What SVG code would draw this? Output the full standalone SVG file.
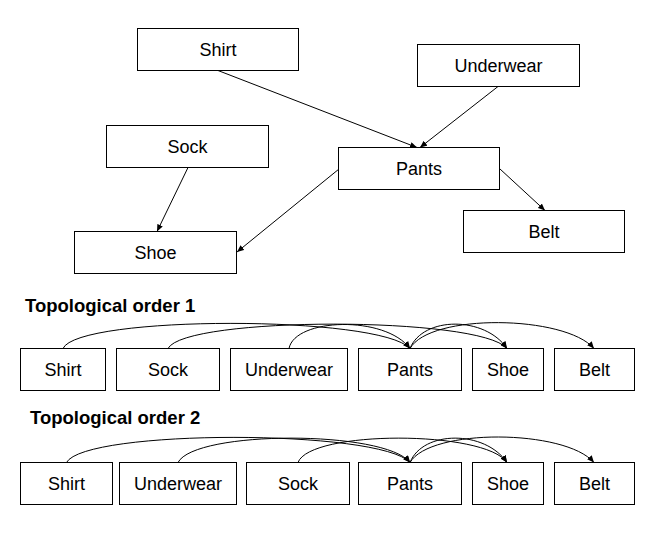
<svg xmlns="http://www.w3.org/2000/svg" width="662" height="537" viewBox="0 0 662 537">
<style>
  .box { fill: #ffffff; stroke: #000000; stroke-width: 1; }
  .lbl { font-family: "Liberation Sans", Arial, sans-serif; font-size: 18px; fill: #000000; text-anchor: middle; }
  .title { font-family: "Liberation Sans", Arial, sans-serif; font-size: 18.5px; font-weight: bold; fill: #000000; }
  .edge { fill: none; stroke: #000000; stroke-width: 1; marker-end: url(#arrow); }
</style>
<defs>
  <marker id="arrow" markerWidth="7" markerHeight="6" refX="7" refY="3" orient="auto" markerUnits="userSpaceOnUse">
    <path d="M0,0 L7,3 L0,6 z" fill="#000000"/>
  </marker>
</defs>
<rect width="662" height="537" fill="#ffffff"/>

<!-- Top graph nodes -->
<g id="g-shirt"><rect class="box" x="137.5" y="28.5" width="161" height="42"/><text class="lbl" x="218" y="56">Shirt</text></g>
<g id="g-underwear"><rect class="box" x="417.5" y="44.5" width="162" height="42"/><text class="lbl" x="498.5" y="72">Underwear</text></g>
<g id="g-sock"><rect class="box" x="106.5" y="125.5" width="162" height="42"/><text class="lbl" x="187.5" y="153">Sock</text></g>
<g id="g-pants"><rect class="box" x="338.5" y="147.5" width="161" height="42"/><text class="lbl" x="419" y="175">Pants</text></g>
<g id="g-shoe"><rect class="box" x="74.5" y="231.5" width="162" height="42"/><text class="lbl" x="155.5" y="259">Shoe</text></g>
<g id="g-belt"><rect class="box" x="463.5" y="210.5" width="161" height="42"/><text class="lbl" x="544" y="238">Belt</text></g>

<!-- Titles -->
<text class="title" x="25" y="312">Topological order 1</text>
<text class="title" x="30" y="424">Topological order 2</text>

<!-- Order 1 nodes -->
<g id="o1-shirt"><rect class="box" x="20.5" y="348.5" width="85" height="42"/><text class="lbl" x="63" y="376">Shirt</text></g>
<g id="o1-sock"><rect class="box" x="116.5" y="348.5" width="103" height="42"/><text class="lbl" x="168" y="376">Sock</text></g>
<g id="o1-underwear"><rect class="box" x="230.5" y="348.5" width="117" height="42"/><text class="lbl" x="289" y="376">Underwear</text></g>
<g id="o1-pants"><rect class="box" x="358.5" y="348.5" width="103" height="42"/><text class="lbl" x="410" y="376">Pants</text></g>
<g id="o1-shoe"><rect class="box" x="472.5" y="348.5" width="71" height="42"/><text class="lbl" x="508" y="376">Shoe</text></g>
<g id="o1-belt"><rect class="box" x="554.5" y="348.5" width="80" height="42"/><text class="lbl" x="594.5" y="376">Belt</text></g>

<!-- Order 2 nodes -->
<g id="o2-shirt"><rect class="box" x="20.5" y="462.5" width="92" height="42"/><text class="lbl" x="66.5" y="490">Shirt</text></g>
<g id="o2-underwear"><rect class="box" x="119.5" y="462.5" width="117" height="42"/><text class="lbl" x="178" y="490">Underwear</text></g>
<g id="o2-sock"><rect class="box" x="246.5" y="462.5" width="103" height="42"/><text class="lbl" x="298" y="490">Sock</text></g>
<g id="o2-pants"><rect class="box" x="358.5" y="462.5" width="103" height="42"/><text class="lbl" x="410" y="490">Pants</text></g>
<g id="o2-shoe"><rect class="box" x="472.5" y="462.5" width="71" height="42"/><text class="lbl" x="508" y="490">Shoe</text></g>
<g id="o2-belt"><rect class="box" x="554.5" y="462.5" width="80" height="42"/><text class="lbl" x="594.5" y="490">Belt</text></g>

<!-- Connectors -->
<g id="connectors">
  <path class="edge" d="M218,70.5 L417,147.5"/>
  <path class="edge" d="M498,86.5 L420,147.5"/>
  <path class="edge" d="M188,167.5 L157,231.5"/>
  <path class="edge" d="M339,169 L237,252"/>
  <path class="edge" d="M500,169 L545,210.5"/>

  <path class="edge" d="M63,348.5 C78,315 380,315 410,348.5"/>
  <path class="edge" d="M168,348.5 C185,316 480,316 507,348.5"/>
  <path class="edge" d="M289,348.5 C295,318 385,315 410,348.5"/>
  <path class="edge" d="M410,348.5 C423,316 485,316 507,348.5"/>
  <path class="edge" d="M410,348.5 C430,313 565,315 594,348.5"/>

  <path class="edge" d="M66.5,462.5 C85,429 380,429 410,462.5"/>
  <path class="edge" d="M178,462.5 C195,430 385,430 410,462.5"/>
  <path class="edge" d="M298,462.5 C310,430 485,430 507,462.5"/>
  <path class="edge" d="M410,462.5 C423,430 485,430 507,462.5"/>
  <path class="edge" d="M410,462.5 C430,428 565,429 594,462.5"/>
</g>
</svg>
